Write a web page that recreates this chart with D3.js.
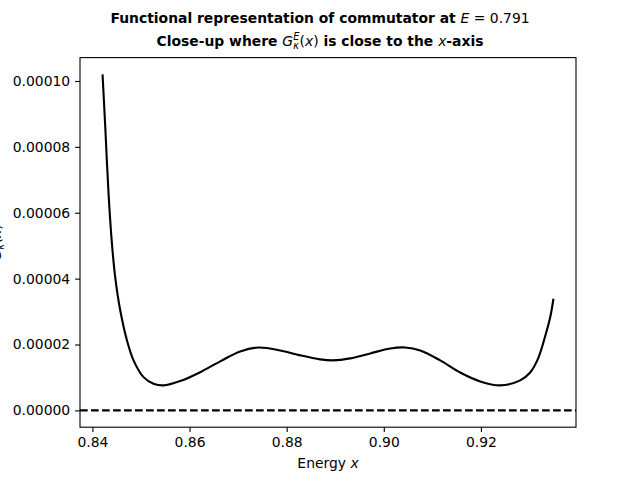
<!DOCTYPE html>
<html>
<head>
<meta charset="utf-8">
<script src="https://cdn.jsdelivr.net/npm/d3@7"></script>
<style>
  body { margin: 0; background: #fff; }
  svg { display: block; font-family: "DejaVu Sans", sans-serif; }
</style>
</head>
<body>
<div id="chart"></div>
<script>
// values
var xVals = [0.84208, 0.84264, 0.84331, 0.84401, 0.84469, 0.84572, 0.84710, 0.84846,
  0.85052, 0.85258, 0.85464, 0.85808, 0.86219, 0.86631, 0.87043, 0.87414, 0.87867,
  0.88279, 0.88690, 0.88958, 0.89308, 0.89720, 0.90132, 0.90441, 0.90750, 0.91161,
  0.91573, 0.91985, 0.92397, 0.92808, 0.93014, 0.93179, 0.93323, 0.93426, 0.93494];
var yVals = [1.020e-4, 8.60e-5, 6.59e-5, 5.07e-5, 4.04e-5, 3.04e-5, 2.13e-5, 1.52e-5,
  1.01e-5, 8.1e-6, 7.6e-6, 8.9e-6, 1.16e-5, 1.49e-5, 1.79e-5, 1.91e-5, 1.82e-5,
  1.67e-5, 1.55e-5, 1.52e-5, 1.58e-5, 1.73e-5, 1.88e-5, 1.91e-5, 1.82e-5, 1.52e-5,
  1.15e-5, 8.8e-6, 7.6e-6, 9.1e-6, 1.15e-5, 1.58e-5, 2.25e-5, 2.82e-5, 3.39e-5];
var xTicks = [0.84, 0.86, 0.88, 0.90, 0.92];
var yTicks = [0, 0.00002, 0.00004, 0.00006, 0.00008, 0.00010];
var hLine = 0;

var svgWidth = 640;
var svgHeight = 480;
var margin = { top: 57.6, right: 64, bottom: 52.8, left: 80 };
var width = svgWidth - margin.left - margin.right;
var height = svgHeight - margin.top - margin.bottom;

var svg = d3.select("#chart").append("svg")
  .attr("width", svgWidth)
  .attr("height", svgHeight);

var g = svg.append("g")
  .attr("transform", `translate(${margin.left}, ${margin.top})`);

// matplotlib style 5% padding
var xMin = d3.min(xVals), xMax = d3.max(xVals);
var xPad = (xMax - xMin) * 0.05;
var yMin = Math.min(d3.min(yVals), hLine), yMax = d3.max(yVals);
var yPad = (yMax - yMin) * 0.05;

var x = d3.scaleLinear().domain([xMin - xPad, xMax + xPad]).range([0, width]);
var y = d3.scaleLinear().domain([yMin - yPad, yMax + yPad]).range([height, 0]);

var xAxis = d3.axisBottom(x).tickValues(xTicks).tickFormat(d3.format(".2f"))
  .tickSizeInner(4.9).tickSizeOuter(0).tickPadding(4.9);
var yAxis = d3.axisLeft(y).tickValues(yTicks).tickFormat(d3.format(".5f"))
  .tickSizeInner(4.9).tickSizeOuter(0).tickPadding(4.9);

var gx = g.append("g").attr("transform", `translate(0, ${height})`).call(xAxis);
var gy = g.append("g").call(yAxis);
[gx, gy].forEach(function(a) {
  a.select(".domain").remove();
  a.selectAll("text").attr("font-size", 13.9).attr("fill", "#000")
    .attr("font-family", "DejaVu Sans");
  a.selectAll("line").attr("stroke", "#000").attr("stroke-width", 1.1);
});

var pts = xVals.map(function(d, i) { return [d, yVals[i]]; });

g.append("line")
  .attr("x1", 0).attr("x2", width)
  .attr("y1", y(hLine)).attr("y2", y(hLine))
  .attr("stroke", "#000").attr("stroke-width", 2.1)
  .attr("stroke-dasharray", "7.7,3.3");

g.append("path")
  .datum(pts)
  .attr("fill", "none")
  .attr("stroke", "#000")
  .attr("stroke-width", 2.1)
  .attr("stroke-linejoin", "round")
  .attr("d", d3.line()
    .x(function(d) { return x(d[0]); })
    .y(function(d) { return y(d[1]); })
    .curve(d3.curveCatmullRom.alpha(0.5)));

g.append("rect")
  .attr("width", width).attr("height", height)
  .attr("fill", "none").attr("stroke", "#000").attr("stroke-width", 1.1);

// titles
var t1 = svg.append("text").attr("x", 320).attr("y", 23)
  .attr("text-anchor", "middle").attr("font-size", 13.9);
t1.append("tspan").attr("font-weight", "bold").text("Functional representation of commutator at ");
t1.append("tspan").attr("font-style", "italic").text("E");
t1.append("tspan").text(" = 0.791");

var t2 = svg.append("text").attr("x", 320).attr("y", 45.5)
  .attr("text-anchor", "middle").attr("font-size", 13.9);
t2.append("tspan").attr("font-weight", "bold").text("Close-up where ");
t2.append("tspan").attr("font-style", "italic").text("G");
t2.append("tspan").attr("font-style", "italic").attr("font-size", 9.7).attr("dy", 3).text("κ");
t2.append("tspan").attr("font-style", "italic").attr("font-size", 9.7).attr("dx", -5.5).attr("dy", -9).text("E");
t2.append("tspan").attr("dy", 6).text("(");
t2.append("tspan").attr("font-style", "italic").text("x");
t2.append("tspan").text(")");
t2.append("tspan").attr("font-weight", "bold").text(" is close to the ");
t2.append("tspan").attr("font-style", "italic").text("x");
t2.append("tspan").attr("font-weight", "bold").text("-axis");

// x label
var xl = svg.append("text").attr("x", margin.left + width / 2).attr("y", 468)
  .attr("text-anchor", "middle").attr("font-size", 13.9);
xl.append("tspan").text("Energy ");
xl.append("tspan").attr("font-style", "italic").text("x");

// y label (mostly off the canvas, as in the original)
var yl = svg.append("text")
  .attr("transform", `translate(1, ${margin.top + height / 2}) rotate(-90)`)
  .attr("text-anchor", "middle").attr("font-size", 13.9);
yl.append("tspan").attr("font-style", "italic").text("G");
yl.append("tspan").attr("font-style", "italic").attr("font-size", 9.7).attr("dy", 3).text("κ");
yl.append("tspan").attr("font-style", "italic").attr("font-size", 9.7).attr("dx", -5.5).attr("dy", -9).text("E");
yl.append("tspan").attr("dy", 6).text("(");
yl.append("tspan").attr("font-style", "italic").text("x");
yl.append("tspan").text(")");
</script>
</body>
</html>
